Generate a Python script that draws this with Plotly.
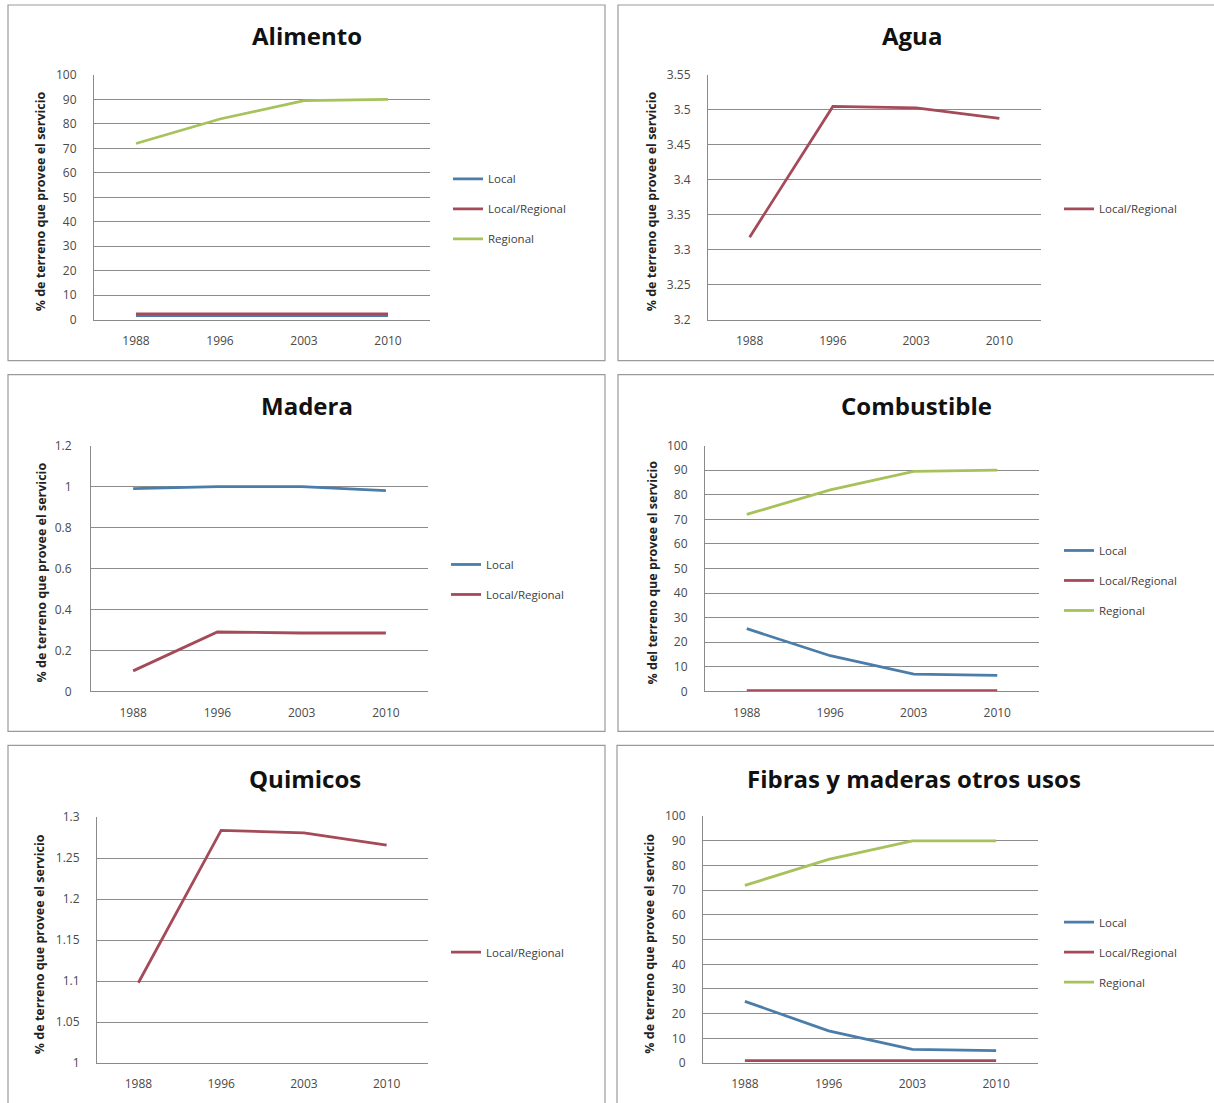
import plotly.graph_objects as go

W, H = 1214, 1103

years = ["1988", "1996", "2003", "2010"]

alimento_local = [1.7, 1.7, 1.7, 1.7]
alimento_locreg = [2.4, 2.4, 2.4, 2.4]
alimento_regional = [72, 82, 89.5, 90]

agua_locreg = [3.318, 3.505, 3.503, 3.488]

madera_local = [0.99, 1.0, 1.0, 0.98]
madera_locreg = [0.10, 0.29, 0.285, 0.285]

comb_local = [25.5, 14.5, 7, 6.5]
comb_locreg = [0.3, 0.3, 0.3, 0.3]
comb_regional = [72, 82, 89.5, 90]

quim_locreg = [1.098, 1.284, 1.281, 1.266]

fibras_local = [25, 13, 5.5, 5]
fibras_locreg = [1, 1, 1, 1]
fibras_regional = [72, 82.5, 90, 90]

titles = ["Alimento", "Agua", "Madera", "Combustible", "Quimicos", "Fibras y maderas otros usos"]
ytitle_a = "% de terreno que provee el servicio"
ytitle_b = "% del terreno que provee el servicio"

C_LOCAL = "#4A7DAA"
C_LOCREG = "#A54A58"
C_REG = "#A6C25A"


def Y(p):
    # convert a target page y-position to a figure-paper fraction
    return 1 - ((p - 8) / 0.9855) / H


panels = [
    dict(title=titles[0], tx=307, ty=35, plot=(94, 430, 74, 319), box=(8, 605, 4, 360), yr=(0, 100), dt=10,
         ylab=ytitle_a, ylabx=40, tstand=14, leg=(448, 208),
         series=[("Local", alimento_local, C_LOCAL), ("Local/Regional", alimento_locreg, C_LOCREG),
                 ("Regional", alimento_regional, C_REG)]),
    dict(title=titles[1], tx=912, ty=35, plot=(708, 1041, 74, 319), box=(618, 1218, 4, 360), yr=(3.2, 3.55), dt=0.05,
         ylab=ytitle_a, ylabx=651, tstand=14, leg=(1059, 208),
         series=[("Local/Regional", agua_locreg, C_LOCREG)]),
    dict(title=titles[2], tx=307, ty=405, plot=(91, 428, 445, 691), box=(8, 605, 374, 731), yr=(0, 1.2), dt=0.2,
         ylab=ytitle_a, ylabx=41, tstand=16, leg=(446, 579),
         series=[("Local", madera_local, C_LOCAL), ("Local/Regional", madera_locreg, C_LOCREG)]),
    dict(title=titles[3], tx=916, ty=405, plot=(705, 1039, 445, 691), box=(618, 1218, 374, 731), yr=(0, 100), dt=10,
         ylab=ytitle_b, ylabx=652, tstand=14, leg=(1059, 580),
         series=[("Local", comb_local, C_LOCAL), ("Local/Regional", comb_locreg, C_LOCREG),
                 ("Regional", comb_regional, C_REG)]),
    dict(title=titles[4], tx=305, ty=778, plot=(97, 428, 817, 1063), box=(8, 605, 745, 1115), yr=(1, 1.3), dt=0.05,
         ylab=ytitle_a, ylabx=39, tstand=14, leg=(446, 952),
         series=[("Local/Regional", quim_locreg, C_LOCREG)]),
    dict(title=titles[5], tx=914, ty=778, plot=(703, 1038, 816, 1063), box=(617, 1218, 745, 1115), yr=(0, 100), dt=10,
         ylab=ytitle_a, ylabx=650, tstand=14, leg=(1059, 952),
         series=[("Local", fibras_local, C_LOCAL), ("Local/Regional", fibras_locreg, C_LOCREG),
                 ("Regional", fibras_regional, C_REG)]),
]

fig = go.Figure()
annotations = []
shapes = []
layout = {}
FONT = "Open Sans"

for i, p in enumerate(panels):
    n = i + 1
    xa = "x" if n == 1 else f"x{n}"
    ya = "y" if n == 1 else f"y{n}"
    leg = "legend" if n == 1 else f"legend{n}"
    x0, x1, y0, y1 = p["plot"]
    for name, vals, col in p["series"]:
        fig.add_trace(go.Scatter(x=years, y=vals, name=name, mode="lines",
                                 line=dict(color=col, width=2.8),
                                 xaxis=xa, yaxis=ya, legend=leg, legendgroup=f"{n}{name}"))
    layout["xaxis" if n == 1 else f"xaxis{n}"] = dict(
        domain=[x0 / W, x1 / W], anchor=ya, type="category", range=[-0.5, 3.5],
        showgrid=False, showline=True, linecolor="#8a8a8a", linewidth=1,
        ticks="", tickfont=dict(family=FONT, size=12, color="#4a4a4a"),
        ticklabelstandoff=10, zeroline=False, fixedrange=True)
    layout["yaxis" if n == 1 else f"yaxis{n}"] = dict(
        domain=[Y(y1), Y(y0)], anchor=xa, range=list(p["yr"]), dtick=p["dt"],
        tick0=p["yr"][0], showgrid=True, gridcolor="#8c8c8c", gridwidth=1,
        showline=True, linecolor="#8a8a8a", linewidth=1, zeroline=False,
        ticks="", tickfont=dict(family=FONT, size=12, color="#4a4a4a"),
        ticklabelstandoff=p["tstand"], fixedrange=True)
    lx, ly = p["leg"]
    layout[leg] = dict(x=lx / W, y=Y(ly), xanchor="left", yanchor="middle",
                       font=dict(family=FONT, size=11.5, color="#404040"),
                       bgcolor="rgba(0,0,0,0)", tracegroupgap=11, itemwidth=30,
                       traceorder="grouped")
    bx0, bx1, by0, by1 = p["box"]
    shapes.append(dict(type="rect", xref="paper", yref="paper",
                       x0=bx0 / W, x1=bx1 / W, y0=Y(by1), y1=Y(by0),
                       line=dict(color="#9a9a9a", width=1.2), fillcolor="rgba(0,0,0,0)", layer="below"))
    annotations.append(dict(text=f"<b>{p['title']}</b>", xref="paper", yref="paper",
                            x=p["tx"] / W, y=Y(p["ty"]), xanchor="center", yanchor="middle",
                            showarrow=False, font=dict(family=FONT, size=24, color="#111111")))
    annotations.append(dict(text=f"<b>{p['ylab']}</b>", xref="paper", yref="paper",
                            x=p["ylabx"] / W, y=Y((y0 + y1) / 2 + 4), textangle=-90,
                            xanchor="center", yanchor="middle", showarrow=False,
                            font=dict(family=FONT, size=12.5, color="#222222")))

fig.update_layout(width=W, height=H, margin=dict(l=0, r=0, t=0, b=0),
                  paper_bgcolor="white", plot_bgcolor="white",
                  showlegend=True, annotations=annotations, shapes=shapes, **layout)

fig.write_html("out.html")
